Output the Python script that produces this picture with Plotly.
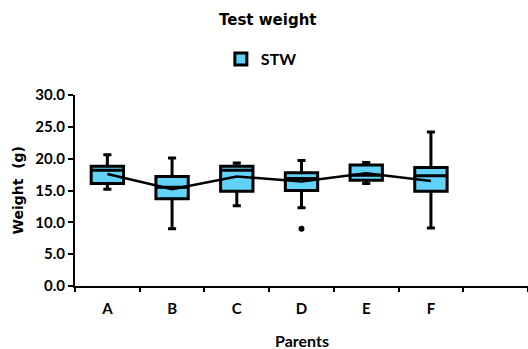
import plotly.graph_objects as go

categories = ["A", "B", "C", "D", "E", "F"]
lower_fence = [15.2, 9.0, 12.6, 12.3, 16.1, 9.1]
q1_vals = [16.1, 13.7, 14.9, 15.0, 16.6, 14.9]
median_vals = [18.2, 15.5, 18.2, 16.9, 17.4, 17.3]
q3_vals = [18.8, 17.2, 18.8, 17.8, 19.0, 18.6]
upper_fence = [20.6, 20.1, 19.3, 19.7, 19.4, 24.2]
mean_vals = [17.6, 15.2, 17.2, 16.4, 17.7, 16.5]
outlier_x = ["D"]
outlier_y = [9.0]
y_ticks = [0, 5, 10, 15, 20, 25, 30]

FILL = "#63D2F9"
TICKFONT = dict(family="Lato", size=15, color="black", weight="bold")

fig = go.Figure()
fig.add_trace(go.Box(
    x=categories, q1=q1_vals, median=median_vals, q3=q3_vals,
    lowerfence=lower_fence, upperfence=upper_fence,
    fillcolor=FILL, line=dict(color="black", width=3),
    whiskerwidth=0.25, width=0.5, boxpoints=False, name="STW",
    showlegend=True,
))
fig.add_trace(go.Scatter(
    x=categories, y=mean_vals, mode="lines",
    line=dict(color="black", width=2.5), showlegend=False, hoverinfo="skip",
))
fig.add_trace(go.Scatter(
    x=outlier_x, y=outlier_y, mode="markers",
    marker=dict(color="black", size=6), showlegend=False,
))

fig.update_layout(
    width=528, height=349,
    margin=dict(l=75, r=0, t=95, b=63),
    paper_bgcolor="white", plot_bgcolor="white",
    showlegend=True,
    legend=dict(orientation="h", x=0.322, xanchor="left", y=1.188, yanchor="middle",
                font=dict(family="Lato", size=16, color="black", weight="bold"),
                bgcolor="rgba(0,0,0,0)", itemwidth=30),
    xaxis=dict(
        type="category", categoryorder="array", categoryarray=categories + [" "],
        range=[-0.5, 6.5], tickson="boundaries", ticks="outside", ticklen=4,
        tickwidth=2, tickcolor="black", showline=True, linecolor="black",
        linewidth=2, showgrid=False, tickfont=TICKFONT, ticklabelstandoff=8,
        zeroline=False,
    ),
    yaxis=dict(
        range=[0, 30], tickvals=y_ticks, tickformat=".1f", ticks="outside",
        ticklen=5, tickwidth=2, tickcolor="black", showline=True,
        linecolor="black", linewidth=2, showgrid=False, zeroline=False,
        tickfont=TICKFONT,
    ),
    annotations=[
        dict(text="Test weight", xref="paper", yref="paper",
             x=(268 - 75) / 453, y=(286 - 19.5) / 191, xanchor="center", yanchor="middle",
             showarrow=False,
             font=dict(family="DejaVu Sans", size=15, color="black", weight="bold")),
        dict(text="Weight  (g)", xref="paper", yref="paper",
             x=(17 - 75) / 453, y=0.5, xanchor="center", yanchor="middle",
             textangle=-90, showarrow=False,
             font=dict(family="DejaVu Sans", size=14, color="black", weight="bold")),
        dict(text="Parents", xref="paper", yref="paper",
             x=0.5, y=(286 - 340) / 191, xanchor="center", yanchor="middle",
             showarrow=False,
             font=dict(family="Lato", size=16, color="black", weight="bold")),
    ],
)

fig.write_html("out.html")
